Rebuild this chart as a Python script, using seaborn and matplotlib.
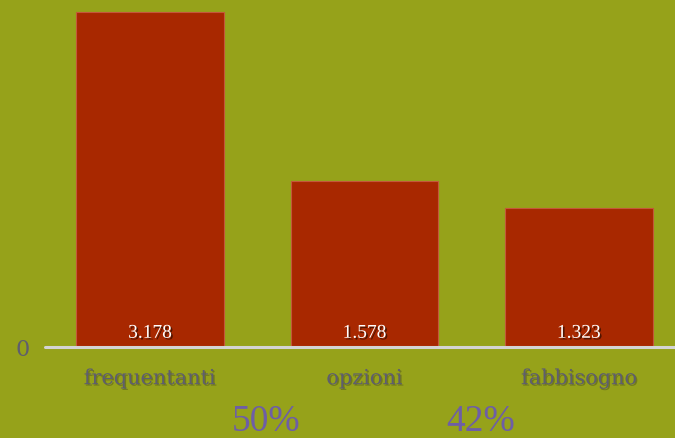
import matplotlib
matplotlib.use('Agg')
import matplotlib.pyplot as plt
import matplotlib.patheffects as pe
import matplotlib.transforms as mtransforms
import seaborn as sns
import pandas as pd

# ── Data ──────────────────────────────────────────────
categories = ['frequentanti', 'opzioni', 'fabbisogno']
values = [3.178, 1.578, 1.323]
value_labels = ['3.178', '1.578', '1.323']
ratio_labels = ['50%', '42%']

BG = '#96A21A'
BAR = '#A82800'
GREY_TXT = '#5E5E6E'
PURPLE = '#6E5EA6'

sns.set_theme(style='white')
plt.rcParams['font.family'] = ['Liberation Serif', 'DejaVu Serif']

df = pd.DataFrame({'cat': categories, 'val': values})

fig = plt.figure(figsize=(6.75, 4.39), dpi=100, facecolor=BG)
ax = fig.add_axes([45 / 675, 91 / 439, 630 / 675, 348 / 439])
ax.set_facecolor(BG)

sns.barplot(data=df, x='cat', y='val', color=BAR, saturation=1, width=0.69,
            edgecolor='#C4583A', linewidth=0.8, ax=ax)

ax.set_xlim(-0.49, 2.448)
ax.set_ylim(0, 3.301)
for s in ax.spines.values():
    s.set_visible(False)
ax.axhline(0, color='#D4D4D4', lw=2.2, clip_on=False, zorder=5)

ax.set_xlabel('')
ax.set_ylabel('')
ax.set_yticks([0])
ax.set_yticklabels(['0'], color=GREY_TXT, fontsize=16, family='DejaVu Serif')
ax.tick_params(axis='y', length=0, pad=11)
ax.set_xticks(range(len(categories)))
ax.set_xticklabels(categories, color=GREY_TXT, fontsize=15, family='DejaVu Serif')
ax.tick_params(axis='x', length=0, pad=16)
for t in ax.get_xticklabels():
    t.set_path_effects([pe.withSimplePatchShadow(offset=(1, -1), alpha=0.3)])

# value labels inside bars
shadow = [pe.withSimplePatchShadow(offset=(1.2, -1.2), shadow_rgbFace='#3a1000', alpha=0.8)]
for i, lab in enumerate(value_labels):
    ax.text(i, 0.05, lab, ha='center', va='bottom', color='white', fontsize=14,
            path_effects=shadow)

# percentages between categories
trans = mtransforms.blended_transform_factory(ax.transData, fig.transFigure)
for i, lab in enumerate(ratio_labels):
    ax.text(i + 0.54, 0.04, lab, transform=trans, ha='center', va='center',
            color=PURPLE, fontsize=27, clip_on=False)

fig.savefig('out.png', dpi=100, facecolor=BG)
